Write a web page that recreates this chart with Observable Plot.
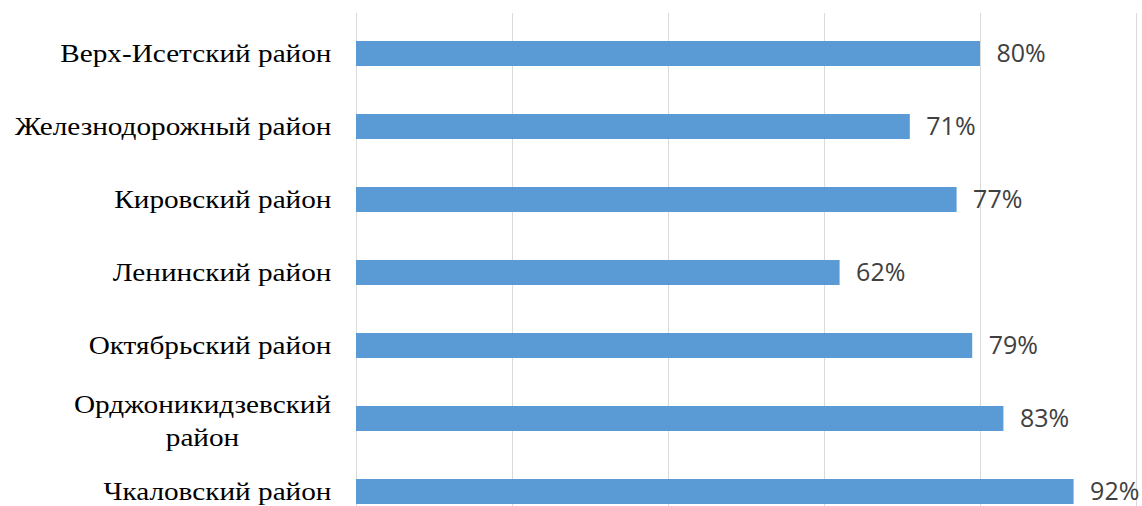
<!DOCTYPE html>
<html><head><meta charset="utf-8">
<script src="https://cdn.jsdelivr.net/npm/d3@7"></script>
<script src="https://cdn.jsdelivr.net/npm/@observablehq/plot@0.6"></script>
<style>html,body{margin:0;padding:0;background:#fff;overflow:hidden;}</style>
</head><body><div id="chart"></div>
<script>
const districts = ["Верх-Исетский район","Железнодорожный район","Кировский район","Ленинский район","Октябрьский район","Орджоникидзевский район","Чкаловский район"];
const values = [80, 71, 77, 62, 79, 83, 92];
const gridTicks = [0, 20, 40, 60, 80, 100];
const data = districts.map((d, i) => ({district: d, value: values[i]}));
const wrapped = "Орджоникидзевский район";

const chart = Plot.plot({
  width: 1142, height: 506,
  marginLeft: 356, marginRight: 6, marginTop: 13, marginBottom: 0,
  x: {domain: [0, 100], range: [356, 1136], axis: null},
  y: {domain: districts, range: [14, 530], paddingInner: 0.66, paddingOuter: 0.33, axis: null},
  marks: [
    Plot.gridX(gridTicks, {stroke: "#d9d9d9", strokeOpacity: 1, strokeWidth: 1}),
    Plot.barX(data, {x: "value", y: "district", fill: "#5b9bd5"}),
    Plot.text(data, {x: "value", y: "district", text: d => d.value + "%", textAnchor: "start", dx: 16,
      fill: "#404040", fontSize: 25, fontFamily: "Open Sans"}),
    Plot.axisY(districts.filter(d => d !== wrapped), {tickSize: 0, tickPadding: 25, fontSize: 25,
      fontFamily: "Liberation Serif", fill: "#000", label: null, className: "lbl"}),
    Plot.axisY([wrapped], {tickSize: 0, tickPadding: 0, textAnchor: "middle", dx: -154, fontSize: 25,
      lineHeight: 1.3, fontFamily: "Liberation Serif", fill: "#000", label: null, className: "lbl",
      tickFormat: d => d.replace(" ", "\n")})
  ]
});
d3.select(chart).selectAll(".lbl text").attr("transform", function() {
  return (this.getAttribute("transform") || "") + " scale(1.17,1)";
});
document.getElementById("chart").appendChild(chart);
</script>
</body></html>
